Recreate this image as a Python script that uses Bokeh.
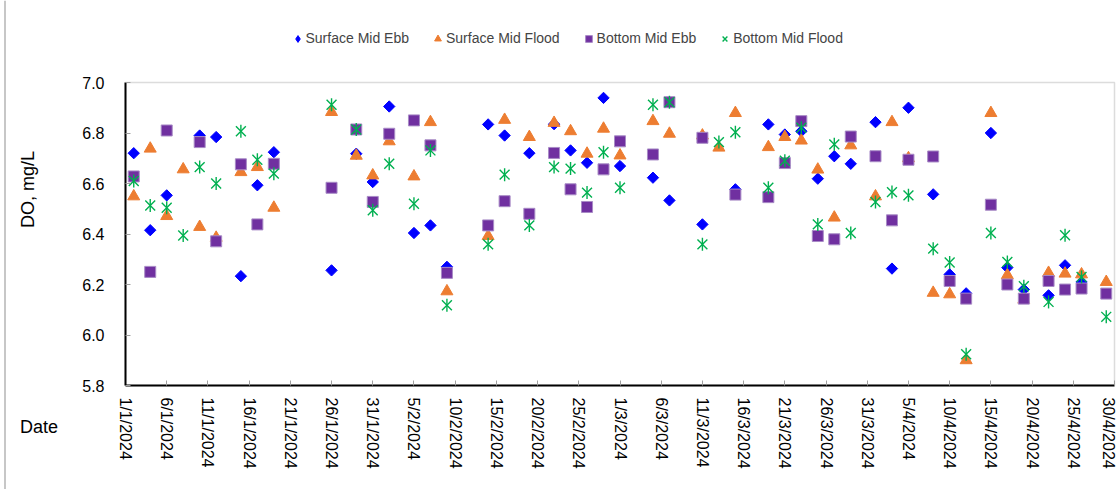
import numpy as np
import pandas as pd
from math import pi
from bokeh.plotting import figure
from bokeh.models import (FixedTicker, CustomJSTickFormatter, Legend, LegendItem,
                          Label, Range1d, PrintfTickFormatter, ColumnDataSource,
                          BoxAnnotation, Span)
from bokeh.embed import file_html
from bokeh.resources import INLINE

nan = np.nan

dates = ["2/1/2024", "4/1/2024", "6/1/2024", "8/1/2024", "10/1/2024", "12/1/2024",
         "15/1/2024", "17/1/2024", "19/1/2024", "26/1/2024", "29/1/2024", "31/1/2024",
         "2/2/2024", "5/2/2024", "7/2/2024", "9/2/2024", "14/2/2024", "16/2/2024",
         "19/2/2024", "22/2/2024", "24/2/2024", "26/2/2024", "28/2/2024", "1/3/2024",
         "5/3/2024", "7/3/2024", "11/3/2024", "13/3/2024", "15/3/2024", "19/3/2024",
         "21/3/2024", "23/3/2024", "25/3/2024", "27/3/2024", "29/3/2024", "1/4/2024",
         "3/4/2024", "5/4/2024", "8/4/2024", "10/4/2024", "12/4/2024", "15/4/2024",
         "17/4/2024", "19/4/2024", "22/4/2024", "24/4/2024", "26/4/2024", "29/4/2024"]

surface_mid_ebb = [6.72, 6.415, 6.553, nan, 6.79, 6.784,
                   6.233, 6.593, 6.724, 6.256, 6.718, 6.606,
                   6.905, 6.404, 6.434, 6.27, 6.834, 6.79,
                   6.72, 6.835, 6.731, 6.682, 6.939, 6.669,
                   6.623, 6.533, 6.438, nan, 6.577, 6.834,
                   6.794, 6.807, 6.619, 6.708, 6.678, 6.843,
                   6.263, 6.90, 6.557, 6.24, 6.165, 6.80,
                   6.267, 6.18, 6.157, 6.276, 6.21, nan]

surface_mid_flood = [6.549, 6.738, 6.471, 6.656, 6.428, 6.385,
                     6.645, 6.665, 6.504, 6.883, 6.71, 6.632,
                     6.767, 6.628, 6.843, 6.173, 6.392, 6.852,
                     6.784, 6.84, 6.807, 6.718, 6.817, 6.711,
                     6.847, 6.797, 6.79, 6.742, 6.879, 6.744,
                     6.784, 6.77, 6.655, 6.465, 6.751, 6.549,
                     6.843, 6.70, 6.167, 6.161, 5.90, 6.879,
                     6.237, 6.14, 6.246, 6.243, 6.24, 6.21]

bottom_mid_ebb = [6.628, 6.25, 6.81, nan, 6.764, 6.371,
                  6.676, 6.438, 6.678, 6.583, 6.814, 6.527,
                  6.797, 6.85, 6.751, 6.246, 6.434, 6.53,
                  6.48, 6.721, 6.577, 6.507, 6.656, 6.767,
                  6.715, 6.922, 6.781, nan, 6.556, 6.546,
                  6.681, 6.847, 6.392, 6.379, 6.786, 6.708,
                  6.454, 6.694, 6.707, 6.214, 6.144, 6.516,
                  6.2, 6.144, 6.214, 6.18, 6.184, 6.164]

bottom_mid_flood = [6.61, 6.513, 6.504, 6.394, 6.665, 6.60,
                    6.807, 6.694, 6.639, 6.912, 6.814, 6.494,
                    6.678, 6.52, 6.731, 6.118, 6.359, 6.635,
                    6.434, 6.665, 6.659, 6.564, 6.724, 6.583,
                    6.912, 6.922, 6.359, 6.764, 6.803, 6.583,
                    6.69, 6.821, 6.438, 6.755, 6.404, 6.527,
                    6.566, 6.553, 6.342, 6.287, 5.924, 6.404,
                    6.289, 6.193, 6.131, 6.395, 6.23, 6.072]

x_tick_labels = ["1/1/2024", "6/1/2024", "11/1/2024", "16/1/2024", "21/1/2024",
                 "26/1/2024", "31/1/2024", "5/2/2024", "10/2/2024", "15/2/2024",
                 "20/2/2024", "25/2/2024", "1/3/2024", "6/3/2024", "11/3/2024",
                 "16/3/2024", "21/3/2024", "26/3/2024", "31/3/2024", "5/4/2024",
                 "10/4/2024", "15/4/2024", "20/4/2024", "25/4/2024", "30/4/2024"]

y_ticks = [5.8, 6.0, 6.2, 6.4, 6.6, 6.8, 7.0]

FONT = "Liberation Sans"

# ---- layout constants (pixels on the canvas) ----
W, H = 1116, 489
PX_LEFT, PX_RIGHT = 125, 1114      # data area left/right edges
PX_TOP, PX_BOTTOM = 82, 385        # data area top/bottom edges

x = pd.to_datetime(dates, format="%d/%m/%Y")
tick_dt = pd.to_datetime(x_tick_labels, format="%d/%m/%Y")
tick_ms = [float(v) for v in (tick_dt.astype("int64") // 10**6)]

x0, x1 = tick_ms[0], tick_ms[-1]
y0, y1 = y_ticks[0], y_ticks[-1]
mpp = (x1 - x0) / (PX_RIGHT - PX_LEFT)
upp = (y1 - y0) / (PX_BOTTOM - PX_TOP)

src = ColumnDataSource(dict(
    x=x,
    se=np.array(surface_mid_ebb, dtype=float),
    sf=np.array(surface_mid_flood, dtype=float),
    be=np.array(bottom_mid_ebb, dtype=float),
    bf=np.array(bottom_mid_flood, dtype=float),
))

p = figure(width=W, height=H, x_axis_type="datetime", title=None,
           output_backend="svg", toolbar_location=None,
           x_range=Range1d(x0 - PX_LEFT * mpp, x1 + (W - PX_RIGHT) * mpp),
           y_range=Range1d(y0 - (H - PX_BOTTOM) * upp, y1 + PX_TOP * upp),
           min_border=0)

p.background_fill_color = "white"
p.border_fill_color = "white"
p.grid.visible = False
p.outline_line_color = None

# chart-area edge line at the far left
p.add_layout(Span(location=x0 - (PX_LEFT - 4.5) * mpp, dimension="height",
                  line_color="#b4b4b4", line_width=1.5))

# plot-area border (gray), drawn under the axes
p.add_layout(BoxAnnotation(left=x0, right=x1, bottom=y0, top=y1,
                           fill_alpha=0, line_color="#8c8c8c", line_width=1.5,
                           level="underlay"))

# narrow diamond under the rotated square: hidden in the plot, used as legend key
r_se_key = p.scatter("x", "se", source=src, marker="diamond", size=8,
                     fill_color="#0000FF", line_color="#0000FF")
r_se = p.scatter("x", "se", source=src, marker="square", angle=pi / 4, size=8,
                 fill_color="#0000FF", line_color="#0000FF", line_width=1)
r_sf = p.scatter("x", "sf", source=src, marker="triangle", size=12,
                 fill_color="#ED7D31", line_color="#ED7D31", line_width=1)
r_be = p.scatter("x", "be", source=src, marker="square", size=11,
                 fill_color="#7030A0", line_color="#a88bc6", line_width=1)
r_bf = p.scatter("x", "bf", source=src, marker="x", size=14,
                 line_color="#00B050", line_width=1.4)
r_bf2 = p.scatter("x", "bf", source=src, marker="dash", angle=pi / 2, size=13,
                  line_color="#00B050", line_width=1.4)

legend = Legend(items=[
    LegendItem(label="Surface Mid Ebb", renderers=[r_se_key]),
    LegendItem(label="Surface Mid Flood", renderers=[r_sf]),
    LegendItem(label="Bottom Mid Ebb", renderers=[r_be]),
    LegendItem(label="Bottom Mid Flood", renderers=[r_bf]),
], location=(288.5, H - 46.5), orientation="horizontal",
    glyph_width=17, glyph_height=17, label_standoff=0, spacing=20,
    padding=0, margin=0, border_line_color=None, background_fill_alpha=0,
    label_text_font=FONT, label_text_font_size="14px", label_height=17)
p.add_layout(legend, "center")

# Y axis (fixed at the first date)
ya = p.yaxis[0]
ya.fixed_location = x0
ya.bounds = (y0, y1)
ya.ticker = FixedTicker(ticks=y_ticks)
ya.formatter = PrintfTickFormatter(format="%.1f")
ya.major_tick_in = 5
ya.major_tick_out = 0
ya.minor_tick_line_color = None
ya.major_tick_line_color = "#a0a0a0"
ya.axis_line_color = "black"
ya.axis_line_width = 2
ya.major_label_standoff = 21
ya.major_label_text_font = FONT
ya.major_label_text_font_size = "16px"
ya.major_label_text_color = "black"

# X axis (fixed at the lowest DO value of the scale)
xa = p.xaxis[0]
xa.fixed_location = y0
xa.bounds = (x0, x1)
xa.ticker = FixedTicker(ticks=tick_ms)
xa.formatter = CustomJSTickFormatter(args=dict(tvals=tick_ms, tlabels=x_tick_labels), code="""
    let best = 0, bd = Infinity;
    for (let i = 0; i < tvals.length; i++) {
        const d = Math.abs(tvals[i] - tick);
        if (d < bd) { bd = d; best = i; }
    }
    return tlabels[best];
""")
xa.major_label_orientation = "vertical"
xa.major_tick_in = 5
xa.major_tick_out = 0
xa.minor_tick_line_color = None
xa.major_tick_line_color = "#a0a0a0"
xa.axis_line_color = "black"
xa.axis_line_width = 2
xa.major_label_standoff = 12
xa.major_label_text_font = FONT
xa.major_label_text_font_size = "16px"
xa.major_label_text_color = "black"

p.add_layout(Label(x=19.5, y=H - 426, x_units="screen", y_units="screen", text="Date",
                   text_font=FONT, text_font_size="18px", text_align="left",
                   text_baseline="middle", text_color="black"))
p.add_layout(Label(x=27, y=H - 189, x_units="screen", y_units="screen", text="DO, mg/L",
                   angle=pi / 2, text_font=FONT, text_font_size="18px", text_align="center",
                   text_baseline="middle", text_color="black"))

open("out.html", "w").write(file_html(p, INLINE))
